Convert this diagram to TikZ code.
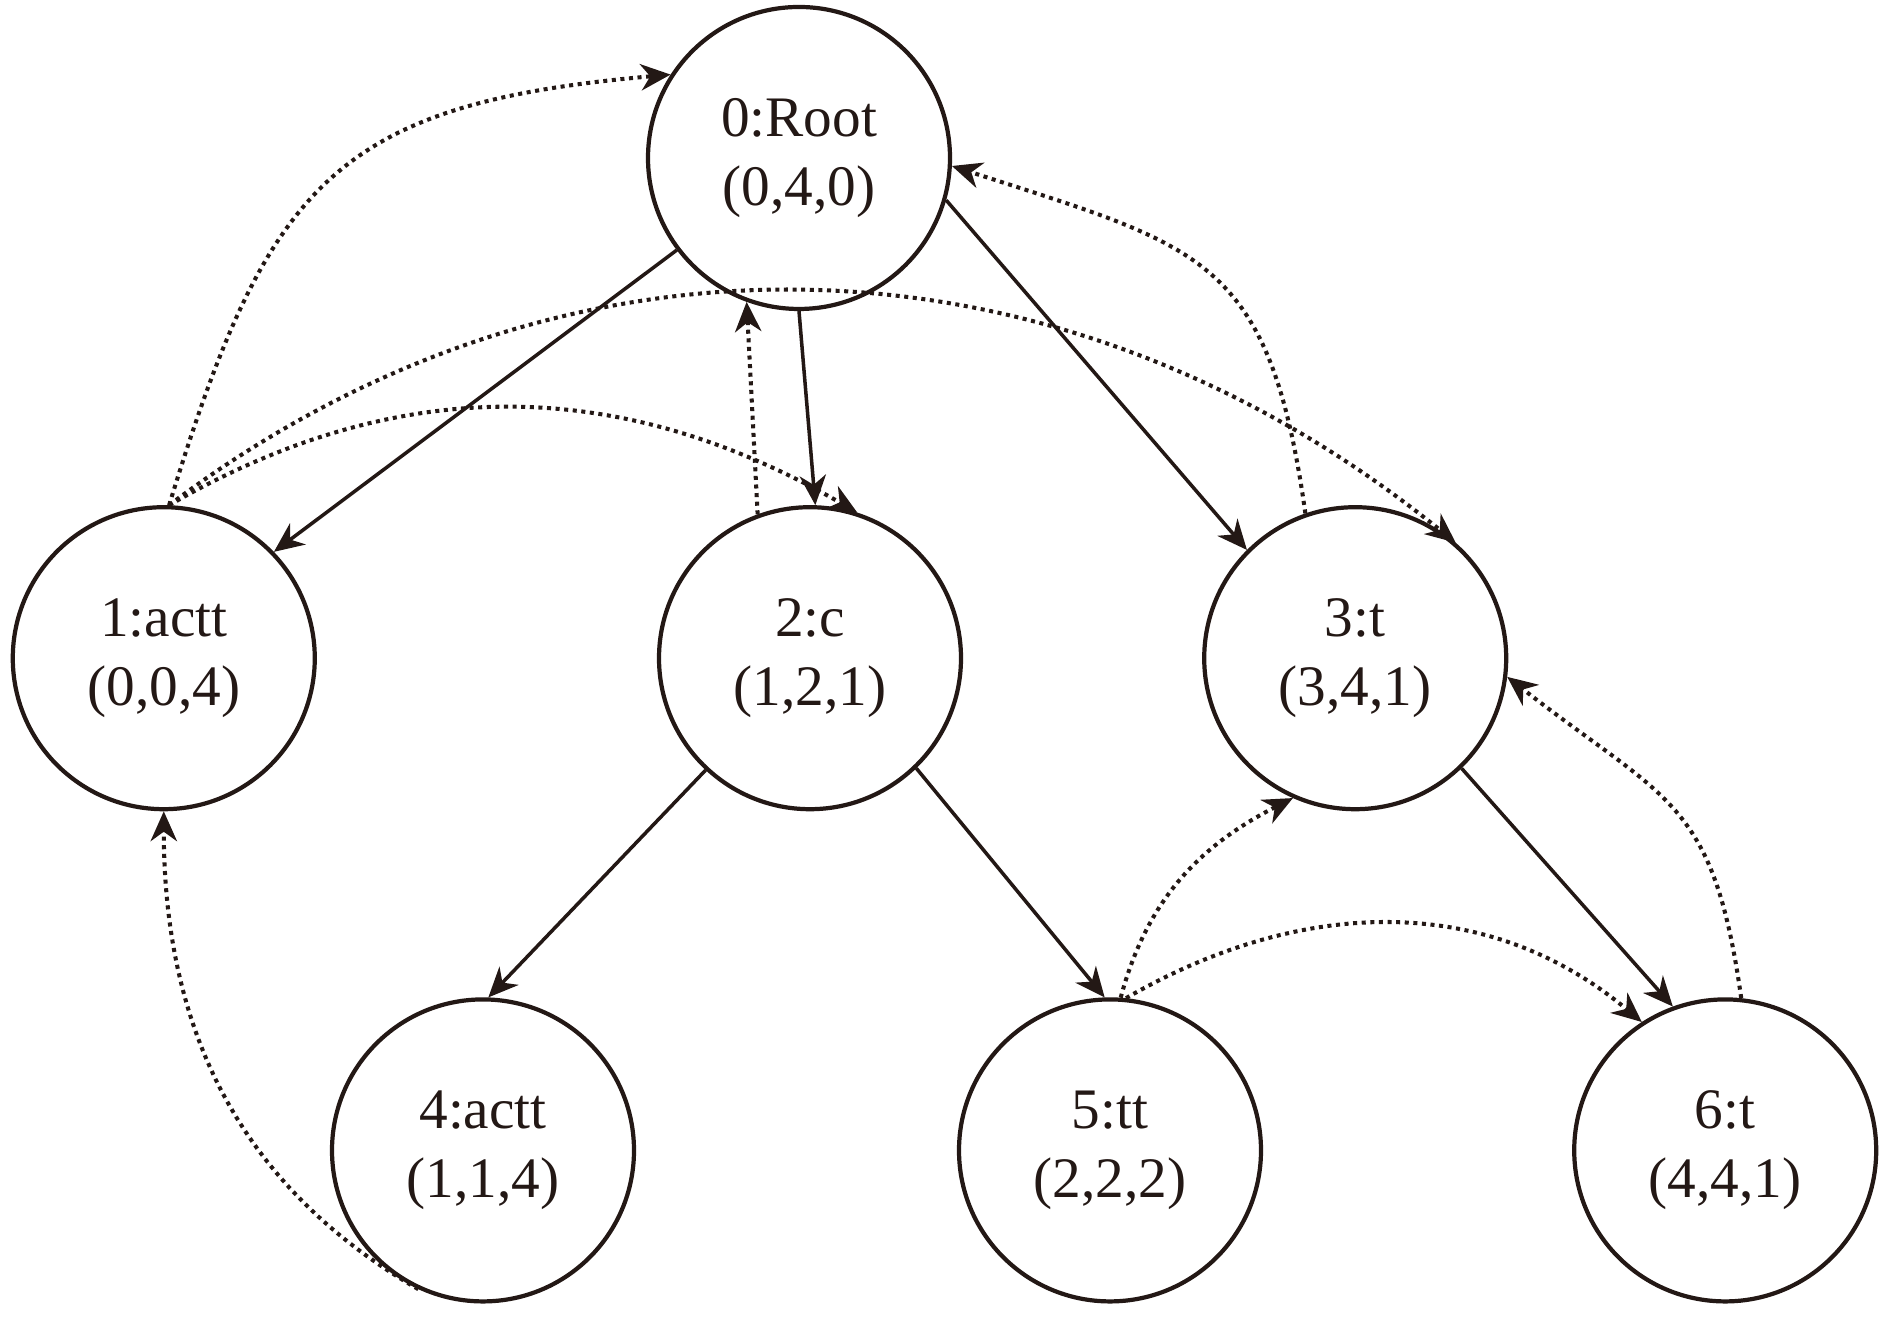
\documentclass[tikz,border=0pt]{standalone}
\usepackage{fontspec}
\setmainfont{Liberation Serif}
\usetikzlibrary{arrows.meta,positioning}
\definecolor{ink}{RGB}{35,24,21}
\tikzset{
  basic/.style  = {draw=ink, circle, line width=1.2pt, text=ink, align=center,
                   font=\fontsize{16.3}{19.6}\selectfont, inner sep=0pt,
                   minimum size=3.02cm},
  link/.style   = {draw=ink, line width=1pt},
  suffix/.style = {link, line width=1.15pt, dash pattern=on 1.15pt off 1.3pt}
}

\begin{document}
\begin{tikzpicture}[
  >={Stealth[length=8.5pt,width=7.5pt,inset=2.7pt]}]
\useasboundingbox (0,0) rectangle (18.9,13.2);

% the root
\node[basic] (n0) at (7.99,11.62) {0:Root\\(0,4,0)};
% first level
\node[basic, below=1.94cm of n0, xshift=0.11cm] (n2) {2:c\\(1,2,1)};
\node[basic, left=3.40cm of n2] (n1) {1:actt\\(0,0,4)};
\node[basic, right=2.39cm of n2] (n3) {3:t\\(3,4,1)};
% second level
\node[basic, below=1.86cm of n2, xshift=-3.27cm] (n4) {4:actt\\(1,1,4)};
\node[basic, below=1.86cm of n2, xshift=3.0cm] (n5) {5:tt\\(2,2,2)};
\node[basic, right=3.09cm of n5] (n6) {6:t\\(4,4,1)};

% tree edges
\foreach \from/\a/\to/\b in {0/217/1/44, 0/270/2/88, 0/344/3/135,
                             2/227/4/88, 2/314/5/92, 3/314/6/110}
  \draw[link,->] (n\from.\a) -- (n\to.\b);

% suffix links
\draw[suffix,->] (n1.88) to[out=73, in=185, looseness=1.3] (n0.147);
\draw[suffix,->] (n1.88) to[out=30, in=150] (n2.72);
\draw[suffix,->] (n1.88) to[out=37, in=141] (n3.49);
\draw[suffix,->] (n2.110) -- (n0.250);
\draw[suffix,->] (n3.109) to[out=98, in=342, looseness=1.35] (n0.357);
\draw[suffix,->] (n5.86) to[out=75, in=207] (n3.246);
\draw[suffix,->] (n5.84) to[out=30, in=140] (n6.123);
\draw[suffix,->] (n6.84) to[out=98, in=322, looseness=1.3] (n3.353);
\draw[suffix,->] (n4.245) to[out=150, in=270] (n1.270);
\end{tikzpicture}
\end{document}
